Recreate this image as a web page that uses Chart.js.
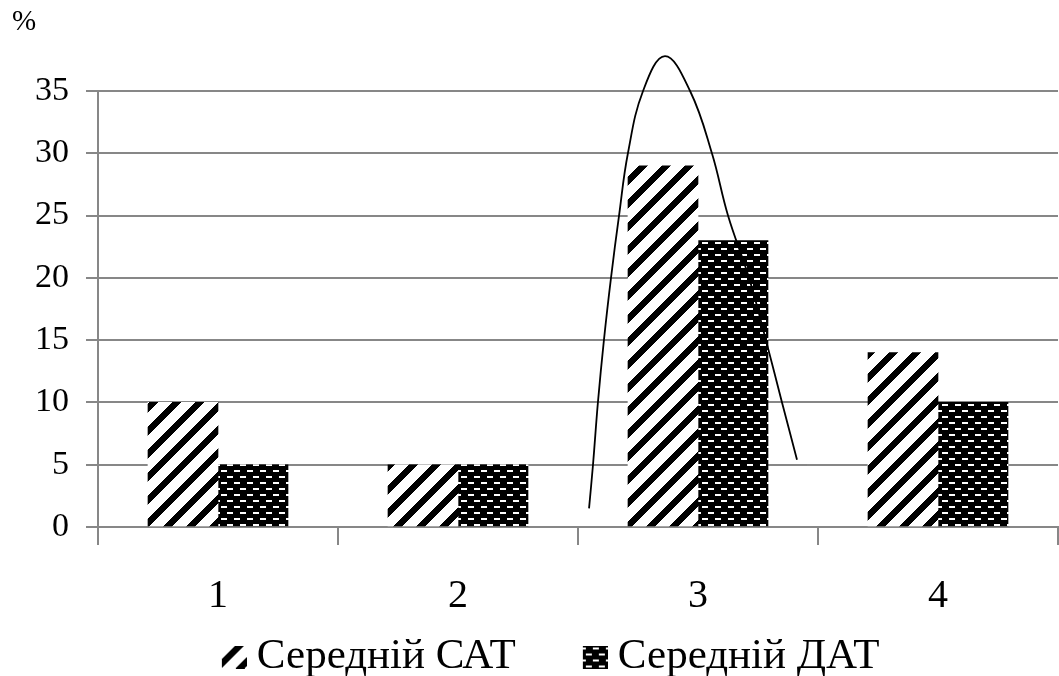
<!DOCTYPE html>
<html>
<head>
<meta charset="utf-8">
<script src="https://cdn.jsdelivr.net/npm/chart.js@4.4.1/dist/chart.umd.min.js"></script>
<style>
  html, body { margin: 0; padding: 0; background: #fff; }
  #wrap { width: 1059px; height: 676px; }
</style>
</head>
<body>
<div id="wrap"><canvas id="chart" width="1059" height="676"></canvas></div>
<script>
// ---- data ----
const categories = ['1', '2', '3', '4'];
const seriesNames = ['Середній САТ', 'Середній ДАТ'];
const satValues = [10, 5, 29, 14];
const datValues = [5, 5, 23, 10];
const yTickValues = [0, 5, 10, 15, 20, 25, 30, 35];
const unitLabel = '%';
// distribution curve over group 3: x in category units (0 = first group), y in %
const curveX = [1.546, 1.5625, 1.583, 1.608, 1.6375, 1.671, 1.708, 1.771, 1.8625, 1.967, 2.058, 2.125, 2.2125, 2.283, 2.35, 2.4125];
const curveY = [1.5, 5, 10, 15, 20, 25, 30, 35, 37.8, 35, 30, 25, 20, 15, 10, 5.4];

// ---- layout constants ----
const FONT = '"Liberation Serif", "Times New Roman", serif';
const W = 1059, H = 676;
const PLOT_L = 98, PLOT_R = 1058, PLOT_T = 91, PLOT_B = 527;
const BAR_W = 70;
const X_AXIS_H = 85;            // tick marks + labels
const X_LABEL_MID = 596;
const LEG_FONT = 43, HF = LEG_FONT / 2;
const SYM_W = 25, SYM_H = 23, SYM_GAP = 10;
const LEG_MID = 657;
const ITEM_GAP = 67;            // end of first legend text to second symbol

// ---- fill patterns ----
function makeHatchTile() {
  const T = 23, BAND = 9;
  const c = document.createElement('canvas');
  c.width = T; c.height = T;
  const g = c.getContext('2d');
  g.fillStyle = '#fff'; g.fillRect(0, 0, T, T);
  g.fillStyle = '#000';
  for (let y = 0; y < T; y++) {
    const s = T - 1 - y;
    for (const k of [-1, 0, 1]) g.fillRect(s + k * T, y, BAND, 1);
  }
  return c;
}
function makeBrickTile() {
  const TW = 13, TH = 12;
  const c = document.createElement('canvas');
  c.width = TW; c.height = TH;
  const g = c.getContext('2d');
  g.fillStyle = '#000'; g.fillRect(0, 0, TW, TH);
  g.fillStyle = '#fff';
  g.fillRect(0, 2, 6, 2);
  g.fillRect(6, 8, 6, 2);
  return c;
}
const hatchTile = makeHatchTile();
const brickTile = makeBrickTile();
const ctxMain = document.getElementById('chart').getContext('2d');
const hatch = ctxMain.createPattern(hatchTile, 'repeat');
const brick = ctxMain.createPattern(brickTile, 'repeat');

// ---- legend geometry (symbol placed close to its text) ----
const legPad = LEG_MID - HF - PLOT_B - X_AXIS_H;
const legH = H - PLOT_B - X_AXIS_H;
const boxW = ITEM_GAP - legPad - HF + SYM_GAP + SYM_W;

function makeSymbol(tile) {
  const half = boxW / 2 + HF - SYM_GAP;
  const c = document.createElement('canvas');
  c.width = Math.round(2 * half); c.height = SYM_H;
  const g = c.getContext('2d');
  g.fillStyle = g.createPattern(tile, 'repeat');
  g.fillRect(c.width - SYM_W, 0, SYM_W, SYM_H);
  return c;
}
const symbols = [makeSymbol(hatchTile), makeSymbol(brickTile)];

const unitPlugin = {
  id: 'unitLabel',
  afterDraw(chart) {
    const g = chart.ctx;
    g.save();
    g.font = '29px ' + FONT;
    g.fillStyle = '#000';
    g.textAlign = 'left';
    g.textBaseline = 'middle';
    g.fillText(unitLabel, 12, 22);
    g.restore();
  }
};

const GRID = '#878787';

new Chart(ctxMain, {
  type: 'bar',
  data: {
    labels: categories,
    datasets: [
      {
        type: 'line',
        label: 'curve',
        data: curveX.map((x, i) => ({ x: x, y: curveY[i] })),
        xAxisID: 'x2',
        yAxisID: 'y',
        borderColor: '#000',
        borderWidth: 1.8,
        pointRadius: 0,
        tension: 0.4,
        fill: false,
        clip: false,
        order: -1
      },
      {
        label: seriesNames[0],
        data: satValues,
        xAxisID: 'x',
        yAxisID: 'y',
        backgroundColor: hatch,
        borderWidth: 0,
        barThickness: BAR_W
      },
      {
        label: seriesNames[1],
        data: datValues,
        xAxisID: 'x',
        yAxisID: 'y',
        backgroundColor: brick,
        borderWidth: 0,
        barThickness: BAR_W
      }
    ]
  },
  options: {
    responsive: false,
    animation: false,
    layout: { padding: { top: PLOT_T, left: 0, right: W - PLOT_R, bottom: 0 } },
    scales: {
      x: {
        type: 'category',
        offset: true,
        grid: { display: true, drawOnChartArea: false, drawTicks: true, tickLength: 18, color: GRID, lineWidth: 2, offset: true },
        border: { display: true, color: GRID, width: 2 },
        ticks: { color: '#000', font: { family: FONT, size: 40 }, padding: X_LABEL_MID - PLOT_B - 18 - 24, maxRotation: 0, autoSkip: false },
        afterFit(s) { s.height = X_AXIS_H; }
      },
      x2: {
        type: 'linear',
        display: false,
        offset: false,
        grid: { offset: false },
        min: -0.5,
        max: 3.5
      },
      y: {
        min: 0,
        max: 35,
        afterBuildTicks(s) { s.ticks = yTickValues.map(v => ({ value: v })); },
        grid: { color: GRID, lineWidth: 2, tickLength: 12, drawTicks: true },
        border: { display: true, color: GRID, width: 2 },
        ticks: { color: '#000', font: { family: FONT, size: 34 }, padding: 17 },
        afterFit(s) { s.width = PLOT_L; }
      }
    },
    plugins: {
      tooltip: { enabled: false },
      legend: {
        position: 'bottom',
        align: 'center',
        maxHeight: legH,
        labels: {
          color: '#000',
          font: { family: FONT, size: LEG_FONT },
          padding: legPad,
          usePointStyle: true,
          pointStyleWidth: boxW,
          filter: item => item.datasetIndex !== 0,
          generateLabels(chart) {
            const items = Chart.defaults.plugins.legend.labels.generateLabels(chart);
            items.forEach(it => {
              if (it.datasetIndex > 0) it.pointStyle = symbols[it.datasetIndex - 1];
            });
            return items;
          }
        }
      }
    }
  },
  plugins: [unitPlugin]
});
</script>
</body>
</html>
